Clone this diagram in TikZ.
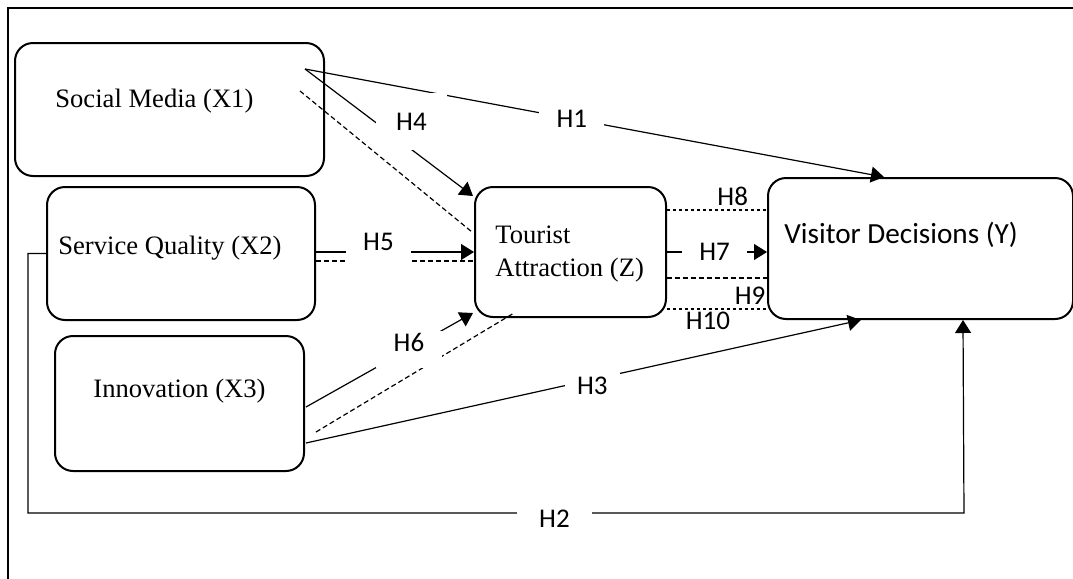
\documentclass[tikz,border=0pt]{standalone}
\usepackage{fontspec}
\setmainfont{Liberation Serif}
\newfontfamily\calibri{Carlito}
\usetikzlibrary{arrows.meta,calc}
\tikzset{
    common/.style={draw, line width=1pt, rounded corners=9pt},
    var/.style={common, minimum height=66.5pt},
    caption/.style={anchor=base west, inner sep=0pt, font=\fontsize{13.3}{16.5}\selectfont},
    link/.style={line width=0.6pt},
    arrow/.style={link, -{Triangle[length=6.5pt,width=8pt]}},
    mediated/.style={link, dash pattern=on 2.5pt off 1.5pt},
    indirect/.style={link, dash pattern=on 1.5pt off 1.5pt},
    hyp/.style={font=\calibri\fontsize{13.5}{16}\selectfont, inner sep=1pt},
    gap/.style={hyp, fill=white, inner sep=0pt}
}

\begin{document}
\begin{tikzpicture}[x=0.5pt, y=-0.5pt]
    \useasboundingbox (0,0) rectangle (1073,579);
    \draw[line width=1.25pt] (8,8) rectangle (1090,600);

    % variables
    \node[var, minimum width=154.5pt] (sm) at (169.5,109.5) {};
    \node[var, minimum width=134pt] (sq) at (181,253.5) {};
    \node[var, minimum width=124.5pt, minimum height=67.5pt] (inn) at (179.5,403.5) {};
    \node[common, minimum width=95.5pt, minimum height=65pt] (ta) at (570.5,252) {};
    \node[common, minimum width=152.5pt, minimum height=70.5pt] (vd) at (920.5,248.5) {};

    \node[caption] (smtext) at (55,107) {Social Media (X1)};
    \node[caption] (sqtext) at (58,254) {Service Quality (X2)};
    \node[caption] (inntext) at (93,397) {Innovation (X3)};
    \node[caption, align=left] (tatext) at (495,276) {Tourist\\Attraction (Z)};
    \node[caption, font=\calibri\fontsize{14.6}{17}\selectfont] (vdtext) at (784,243) {Visitor Decisions (Y)};

    \coordinate (smout) at (305,69);
    \coordinate (smdash) at (300,91);
    \coordinate (h2a) at (28,513);
    \coordinate (h2b) at (964,513);

    % direct paths
    \draw[arrow] (smout) -- node[gap, pos=0.461, minimum width=32.5pt] {H1} ($(vd.north west)+(117,0)$);
    \draw[arrow] (sq.west) -| (h2a) -- node[gap, pos=0.5625, minimum width=37.5pt, yshift=-3pt] {H2} (h2b) -- ($(vd.south west)+(196,0)$);
    \draw[arrow] ($(inn.east)+(1,39.5)$) -- node[gap, pos=0.516, minimum width=27.5pt, minimum height=14pt, yshift=-3pt] {H3} ($(vd.south west)+(94,0)$);

    % paths to the mediator
    \draw[arrow] (smout) -- ($(ta.north west)+(-1,10)$);
    \draw[mediated] (smdash) -- ($(ta.north west)+(-2,46)$);
    \draw[arrow] (sq.east |- ta.west) -- (ta.west);
    \draw[mediated] ($(sq.east |- ta.west)+(0,9)$) -- ($(ta.west)+(0,9)$);
    \draw[arrow] ($(inn.east)+(1,3.5)$) -- ($(ta.south west)+(-1,-5)$);
    \draw[mediated] ($(inn.east)+(11,28.5)$) -- ($(ta.south west)+(40,-5)$);

    % mediator to decisions
    \draw[arrow] (ta.east) -- node[gap, pos=0.475, minimum width=32.5pt] {H7} (vd.west |- ta.east);
    \draw[indirect] ($(ta.east)+(0,-42)$) -- node[hyp, pos=0.657, above, inner sep=2pt] {H8} ($(vd.west |- ta.east)+(0,-42)$);
    \draw[mediated] ($(ta.east)+(0,26)$) -- node[hyp, pos=0.83, below, yshift=-3pt] {H9} ($(vd.west |- ta.east)+(0,26)$);
    \draw[indirect] ($(ta.east)+(0,57)$) -- node[hyp, pos=0.41, below] {H10} ($(vd.west |- ta.east)+(0,57)$);

    % labels over several lines
    \node[gap, minimum width=35.5pt, minimum height=28.5pt] (h4) at (411.5,121.5) {H4};
    \node[gap, minimum width=32.5pt, minimum height=15pt, text depth=8pt] (h5) at (378.5,250) {H5};
    \node[gap, minimum width=33pt, minimum height=18.5pt, text depth=7.5pt] (h6) at (409,349.5) {H6};
\end{tikzpicture}
\end{document}
